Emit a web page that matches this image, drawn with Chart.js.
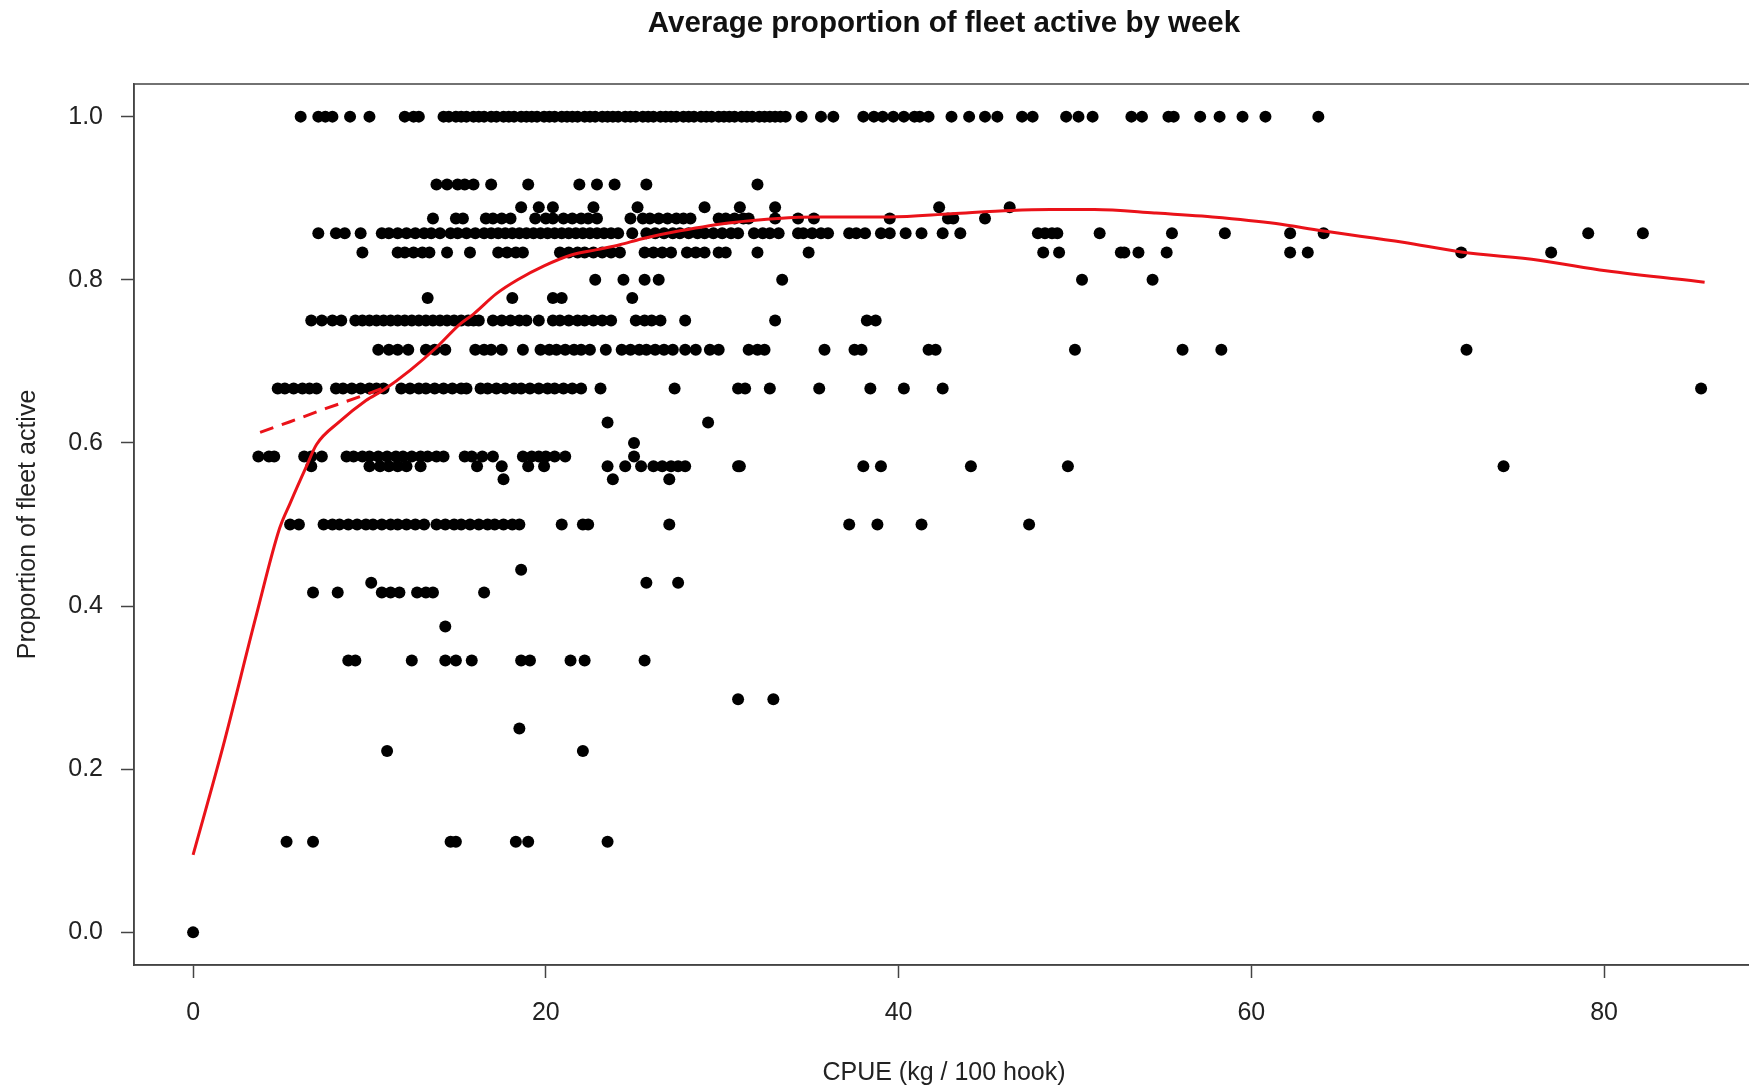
<!DOCTYPE html>
<html>
<head>
<meta charset="utf-8">
<title>Average proportion of fleet active by week</title>
<script src="https://cdn.jsdelivr.net/npm/chart.js@4.4.1/dist/chart.umd.min.js"></script>
<style>
  html, body { margin: 0; padding: 0; background: #fff; overflow: hidden; }
  #wrap { width: 1749px; height: 1089px; overflow: hidden; }
  canvas { display: block; }
</style>
</head>
<body>
<div id="wrap"><canvas id="fleetChart" width="1760" height="1089"></canvas></div>
<script>
// proportion of fleet active (the y level of each row of points)
const levels = [1.0, 0.9167, 0.8889, 0.875, 0.8571, 0.8333, 0.8, 0.7778, 0.75, 0.7143, 0.6667,
  0.625, 0.6, 0.5833, 0.5714, 0.5556, 0.5, 0.4444, 0.4286, 0.4167, 0.375, 0.3333, 0.2857,
  0.25, 0.2222, 0.1111, 0.0];

// CPUE values
const p1000 = [6.1, 7.1, 7.5, 7.9, 8.9, 10.0, 12.0, 12.5, 12.8, 14.2, 14.5, 14.9, 15.2, 15.5, 15.9,
  16.2, 16.5, 16.9, 17.2, 17.6, 17.9, 18.2, 18.6, 18.9, 19.2, 19.5, 19.9, 20.2, 20.5, 20.9, 21.2,
  21.5, 21.8, 22.2, 22.5, 22.8, 23.2, 23.5, 23.8, 24.1, 24.5, 24.8, 25.1, 25.5, 25.8, 26.1, 26.5,
  26.8, 27.1, 27.4, 27.8, 28.1, 28.4, 28.8, 29.1, 29.4, 29.8, 30.1, 30.4, 30.7, 31.1, 31.4, 31.7,
  32.1, 32.4, 32.7, 33.0, 33.3, 33.6, 34.5, 35.6, 36.3, 38.0, 38.6, 39.1, 39.7, 40.3, 40.9, 41.2,
  41.7, 43.0, 44.0, 44.9, 45.6, 47.0, 47.6, 49.5, 50.2, 51.0, 53.2, 53.8, 55.3, 55.6, 57.1, 58.2,
  59.5, 60.8, 63.8];
const p0917 = [13.8, 14.4, 15.0, 15.4, 15.9, 16.9, 19.0, 21.9, 22.9, 23.9, 25.7, 32.0];
const p0889 = [18.6, 19.6, 20.4, 22.7, 25.2, 29.0, 31.0, 33.0, 42.3, 46.3];
const p0875 = [13.6, 14.9, 15.3, 16.6, 17.0, 17.5, 18.0, 19.4, 20.0, 20.4, 21.0, 21.5, 22.0, 22.4,
  22.9, 24.8, 25.5, 25.9, 26.4, 26.9, 27.4, 27.8, 28.2, 29.8, 30.2, 30.7, 31.2, 31.5, 33.0, 34.3,
  35.2, 39.5, 42.8, 43.1, 44.9];
const p0857 = [7.1, 8.1, 8.6, 9.5, 10.7, 11.1, 11.6, 12.1, 12.6, 13.1, 13.5, 14.0, 14.6, 15.0, 15.5,
  16.0, 16.5, 16.9, 17.3, 17.7, 18.1, 18.5, 18.9, 19.3, 19.7, 20.1, 20.5, 20.9, 21.3, 21.7, 22.1,
  22.5, 22.9, 23.3, 23.7, 24.1, 24.9, 25.7, 26.2, 26.7, 27.2, 27.6, 28.1, 28.6, 29.0, 29.5, 30.0,
  30.5, 30.9, 31.8, 32.3, 32.7, 33.2, 34.3, 34.6, 35.1, 35.6, 36.0, 37.2, 37.6, 38.1, 39.0, 39.5,
  40.4, 41.3, 42.5, 43.5, 47.9, 48.3, 48.7, 49.0, 51.4, 55.5, 58.5, 62.2, 64.1, 79.1, 82.2];
const p0833 = [9.6, 11.6, 12.0, 12.5, 13.0, 13.4, 14.4, 15.7, 17.3, 17.8, 18.3, 18.7, 20.8, 21.3,
  21.8, 22.2, 22.7, 23.2, 23.7, 24.2, 25.6, 26.1, 26.6, 27.1, 28.0, 28.5, 29.0, 29.8, 30.2, 32.0,
  34.9, 48.2, 49.1, 52.6, 52.8, 53.6, 55.2, 62.2, 63.2, 71.9, 77.0];
const p0800 = [22.8, 24.4, 25.6, 26.4, 33.4, 50.4, 54.4];
const p0778 = [13.3, 18.1, 20.4, 20.9, 24.9];
const p0750 = [6.7, 7.3, 7.9, 8.4, 9.2, 9.6, 10.0, 10.4, 10.8, 11.2, 11.6, 12.0, 12.4, 12.8, 13.2,
  13.6, 14.0, 14.4, 14.8, 15.2, 15.6, 15.9, 16.2, 17.0, 17.5, 18.0, 18.5, 18.9, 19.6, 20.4, 20.8,
  21.3, 21.8, 22.2, 22.7, 23.2, 23.7, 25.1, 25.6, 26.0, 26.5, 27.9, 33.0, 38.2, 38.7];
const p0714 = [10.5, 11.1, 11.6, 12.2, 13.2, 13.7, 14.3, 16.0, 16.5, 16.9, 17.5, 18.7, 19.7, 20.2,
  20.6, 21.1, 21.6, 22.0, 22.5, 23.4, 24.3, 24.8, 25.3, 25.7, 26.2, 26.7, 27.2, 27.9, 28.5, 29.3,
  29.8, 31.5, 32.0, 32.4, 35.8, 37.5, 37.9, 41.7, 42.1, 50.0, 56.1, 58.3, 72.2];
const p0667 = [4.8, 5.2, 5.7, 6.2, 6.6, 7.0, 8.1, 8.5, 9.0, 9.5, 10.0, 10.4, 10.8, 11.8, 12.3, 12.8,
  13.2, 13.7, 14.2, 14.7, 15.2, 15.5, 16.3, 16.7, 17.2, 17.7, 18.2, 18.6, 19.1, 19.6, 20.1, 20.5,
  21.0, 21.5, 22.0, 23.1, 27.3, 30.9, 31.3, 32.7, 35.5, 38.4, 40.3, 42.5, 85.5];
const p0625 = [23.5, 29.2];
const p0600 = [25.0];
const p0583 = [3.7, 4.3, 4.6, 6.3, 6.7, 7.3, 8.7, 9.1, 9.6, 10.0, 10.5, 11.0, 11.5, 11.9, 12.4,
  12.9, 13.3, 13.8, 14.2, 15.4, 15.8, 16.4, 17.0, 18.7, 19.2, 19.6, 20.0, 20.5, 21.1, 25.0];
const p0571 = [6.7, 10.0, 10.6, 11.1, 11.6, 12.1, 12.9, 16.1, 17.5, 19.0, 19.9, 23.5, 24.5, 25.4,
  26.1, 26.6, 27.1, 27.5, 27.9, 30.9, 31.0, 38.0, 39.0, 44.1, 49.6, 74.3];
const p0556 = [17.6, 23.8, 27.0];
const p0500 = [5.5, 6.0, 7.4, 7.9, 8.3, 8.8, 9.3, 9.8, 10.2, 10.7, 11.2, 11.6, 12.1, 12.6, 13.1,
  13.8, 14.3, 14.8, 15.2, 15.7, 16.2, 16.7, 17.1, 17.6, 18.1, 18.5, 20.9, 22.1, 22.4, 27.0, 37.2,
  38.8, 41.3, 47.4];
const p0444 = [18.6];
const p0429 = [10.1, 25.7, 27.5];
const p0417 = [6.8, 8.2, 10.7, 11.2, 11.7, 12.7, 13.2, 13.6, 16.5];
const p0375 = [14.3];
const p0333 = [8.8, 9.2, 12.4, 14.3, 14.9, 15.8, 18.6, 19.1, 21.4, 22.2, 25.6];
const p0286 = [30.9, 32.9];
const p0250 = [18.5];
const p0222 = [11.0, 22.1];
const p0111 = [5.3, 6.8, 14.6, 14.9, 18.3, 19.0, 23.5];
const p0000 = [0];

const rows = [p1000, p0917, p0889, p0875, p0857, p0833, p0800, p0778, p0750, p0714, p0667,
  p0625, p0600, p0583, p0571, p0556, p0500, p0444, p0429, p0417, p0375, p0333, p0286,
  p0250, p0222, p0111, p0000];

// smoothed fit (solid) and its short dashed branch
const fitX = [0, 1.7, 3.6, 4.9, 5.5, 6.4, 7.0, 8.3, 9.8, 10.8, 12.3, 13.8, 15.1, 15.9, 17.2, 18.4,
  19.9, 21.4, 22.9, 24.2, 25.4, 27.6, 30.5, 35.4, 39.5, 43.0, 46.4, 48.6, 51.1, 54.5, 57.8, 61.4,
  64.0, 68.6, 71.9, 76.3, 80.1, 85.7];
const fitY = [0.095, 0.228, 0.39, 0.495, 0.526, 0.57, 0.598, 0.626, 0.652, 0.665, 0.689, 0.717,
  0.745, 0.758, 0.783, 0.8, 0.817, 0.83, 0.837, 0.843, 0.85, 0.86, 0.87, 0.877, 0.877, 0.881,
  0.885, 0.886, 0.886, 0.882, 0.877, 0.869, 0.86, 0.846, 0.834, 0.824, 0.811, 0.797];
const dashX = [3.8, 5.5, 7.5, 9.5, 11.0];
const dashY = [0.613, 0.626, 0.642, 0.657, 0.669];

const xTicks = [0, 20, 40, 60, 80];
const yTicks = [0, 0.2, 0.4, 0.6, 0.8, 1.0];

const points = [];
rows.forEach((xs, i) => {
  xs.forEach(x => points.push({ x: x, y: levels[i] }));
});
const fitLine = fitX.map((x, i) => ({ x: x, y: fitY[i] }));
const dashLine = dashX.map((x, i) => ({ x: x, y: dashY[i] }));

const FONT = "'Liberation Sans', Arial, sans-serif";
const AXIS = "#444";

// title + box around the plot region
const framePlugin = {
  id: "frame",
  afterDraw(chart) {
    const { ctx, chartArea } = chart;
    ctx.save();
    ctx.strokeStyle = AXIS;
    ctx.lineWidth = 1.5;
    ctx.strokeRect(chartArea.left, chartArea.top, chartArea.right - chartArea.left, chartArea.bottom - chartArea.top);
    ctx.font = "bold 29.5px " + FONT;
    ctx.fillStyle = "#111";
    ctx.textAlign = "center";
    ctx.textBaseline = "alphabetic";
    ctx.fillText("Average proportion of fleet active by week", (chartArea.left + chartArea.right) / 2, 32);
    ctx.restore();
  }
};

new Chart("fleetChart", {
  type: "scatter",
  data: {
    datasets: [
      {
        label: "fit",
        data: fitLine,
        showLine: true,
        borderColor: "#ea1219",
        borderWidth: 3,
        pointRadius: 0,
        cubicInterpolationMode: "monotone",
        fill: false
      },
      {
        label: "fit (extrapolated)",
        data: dashLine,
        showLine: true,
        borderColor: "#ea1219",
        borderWidth: 3,
        borderDash: [14, 9],
        pointRadius: 0,
        fill: false
      },
      {
        label: "weeks",
        data: points,
        pointRadius: 6,
        pointBackgroundColor: "#000",
        pointBorderWidth: 0,
        pointHoverRadius: 6
      }
    ]
  },
  options: {
    responsive: false,
    animation: false,
    events: [],
    layout: { padding: { top: 84, left: 0, right: 0, bottom: 0 } },
    plugins: {
      legend: { display: false },
      tooltip: { enabled: false }
    },
    scales: {
      x: {
        type: "linear",
        min: -3.35,
        max: 88.5,
        afterBuildTicks: s => { s.ticks = xTicks.map(v => ({ value: v })); },
        afterFit: s => { s.height = 124; },
        grid: { drawOnChartArea: false, tickLength: 13, tickWidth: 1.5, tickColor: AXIS },
        border: { color: AXIS, width: 1.5 },
        ticks: {
          autoSkip: false,
          maxRotation: 0,
          padding: 20,
          color: "#222",
          font: { family: FONT, size: 25 },
          callback: v => String(v)
        },
        title: {
          display: true,
          text: "CPUE (kg / 100 hook)",
          color: "#222",
          font: { family: FONT, size: 25 },
          padding: { top: 0, bottom: 1 }
        }
      },
      y: {
        type: "linear",
        min: -0.04,
        max: 1.04,
        afterBuildTicks: s => { s.ticks = yTicks.map(v => ({ value: v })); },
        afterFit: s => { s.width = 134; },
        grid: { drawOnChartArea: false, tickLength: 13, tickWidth: 1.5, tickColor: AXIS },
        border: { color: AXIS, width: 1.5 },
        ticks: {
          padding: 18,
          color: "#222",
          font: { family: FONT, size: 25 },
          callback: v => v.toFixed(1)
        },
        title: {
          display: true,
          text: "Proportion of fleet active",
          color: "#222",
          font: { family: FONT, size: 25 },
          padding: { top: 13, bottom: 0 }
        }
      }
    }
  },
  plugins: [framePlugin]
});
</script>
</body>
</html>
